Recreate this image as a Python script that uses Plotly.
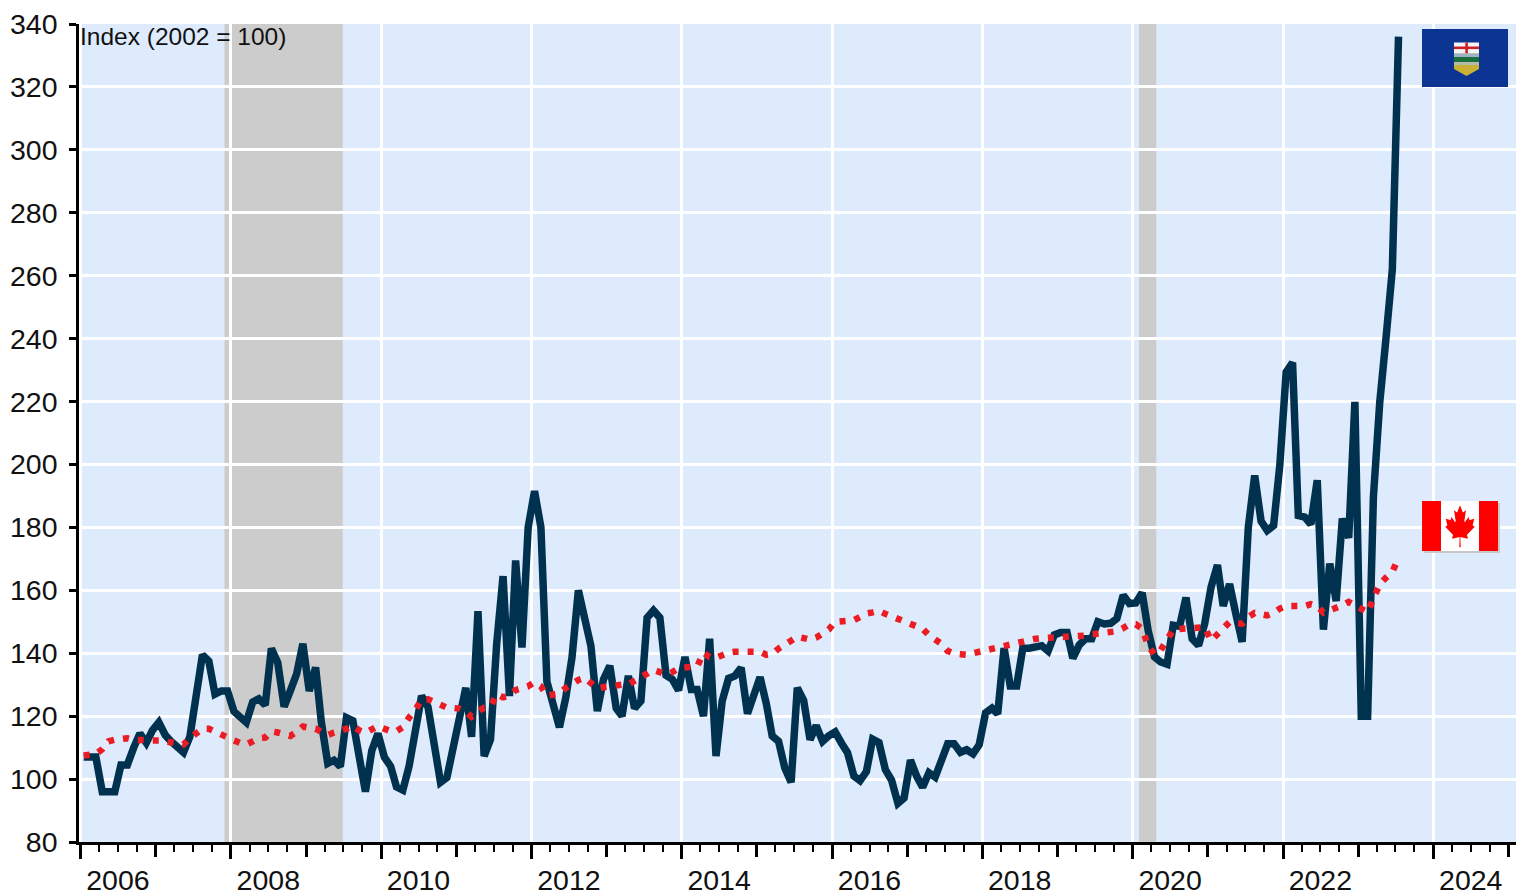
import base64
import pandas as pd
import plotly.graph_objects as go

alberta = [107,107,107,96,96,96,104.5,104.5,110,114.5,111.5,115.5,118,114,112,110.5,108.5,113.5,127.5,139.5,
137.5,127,128,128,121.5,119.5,118,124.5,125.5,123.5,141.5,137,123,128,133.5,143,128,135.5,118,105,
106,104,119.5,118.5,108,96,109,114.5,107,104,97.5,96.5,104,115,126.4,123,110,99,100.5,110,
119.5,129,113.4,153.4,107.3,112.6,143,164.5,126.4,169.5,141.8,180,191.5,180,131,124,116.5,126,138.6,160,
151,142.3,121.6,131.7,136,122.5,120,132.8,122.5,124.8,151.3,153.6,151.3,133,131.7,128.2,138.8,128.5,128.5,120,
144.6,107.3,124.8,132,132.8,135.4,120.8,125.9,132.4,123.8,113.7,112,103.6,99,129,125,112.5,117,112,113.8,
115,111.4,108.4,101,99.5,102.4,112.7,111.6,103,99.7,92.3,94,106,100.8,97.4,102,100.6,106,111.2,111.2,
108.5,109.3,108,110.9,121,122.5,120.7,141.6,129.6,129.6,141.6,141.6,141.8,142.4,140.7,145.8,146.6,146.6,138.4,142.6,
144.6,144.6,150,149.3,149.5,151,158.4,155.8,156,159.2,147.3,138.8,137.2,136.5,148.9,148.6,157.7,144.6,142.5,149.4,
161,168,155,162,152.6,143.6,180,196.5,182,179,180.6,199.7,229.4,232.4,183.8,183.3,181,195,147.5,168.5,
156.6,182.8,176.7,219.9,120,120,189.7,219.9,240,262,336]

canada = [107.5,107.5,108,109.5,112,112.5,113,113,112.5,112.3,112,112.3,112.3,112,111.5,111.5,111,113,114.5,116,
116,115,114,113.5,112.3,111.5,111,112,113,113.2,115.2,114.8,114,113.7,115,116.7,116.3,116,115,114,
114.8,115.2,116,117,115.5,114.7,115.5,116.8,116,115.2,115.2,116.5,119.5,122,125.3,125.4,124.5,123.5,122.7,122.6,
122.4,121.5,119.8,121.5,122.7,123,127,126,126.5,128.3,128.8,129.5,130.8,129.5,126.5,126.8,127.2,129,130.3,131.5,
132.2,130.5,128.8,129.2,129.6,129.8,130,130.1,131.5,132.4,133.5,134.7,134,133.3,134,135.2,135.5,135.6,135.7,140.2,
138.8,138.6,139.5,140.2,140.5,140.6,140.6,140.7,140.5,139.5,139.8,141.5,142.5,144,145.3,145,144.3,145,146,147.5,
150,150,150,150.5,151.5,152.6,153,153.5,152.5,151.8,151,150.3,149.5,148.8,147.8,145.7,144.3,143,140.7,139.9,
139.7,139.5,140,140.5,141,141.5,142,142.3,142.6,143.2,143.8,144.2,144.6,144.8,144.9,145,145,144.9,144.9,145.3,
145.6,146,146.2,146.5,146.8,147,148,149.2,149.2,147.8,142.5,139.5,141,144.5,147.5,147.7,147.8,148,148.2,148.3,
144,146.2,148.2,149.9,149.6,149.4,151.5,152.8,152.4,152,152.8,154.2,155,154.9,154.7,155,155.6,155,152.9,153.5,
154.2,155.2,156.3,155.3,153.8,153,157.4,162,164,165.8,170.4]

months = pd.date_range("2006-01-01", periods=len(alberta), freq="MS") + pd.Timedelta(days=15)
recession_start = ["2007-12-01", "2020-02-01"]
recession_end = ["2009-06-28", "2020-04-25"]
year_label_dates = [f"{y}-07-01" for y in range(2006, 2026, 2)]
year_labels = [str(y) for y in range(2006, 2026, 2)]

BLUE = "#00324f"
RED = "#ec1c24"
BG = "#deebfd"
FONT = "Liberation Sans"
X_RANGE = ["2005-12-24", "2025-02-06"]


def svg_uri(svg):
    return "data:image/svg+xml;base64," + base64.b64encode(svg.encode()).decode()


alberta_flag = """<svg xmlns="http://www.w3.org/2000/svg" viewBox="0 0 86 58" preserveAspectRatio="none">
<rect width="86" height="58" fill="#0c3593"/>
<path d="M32 14H57V40L44.5 47L32 40Z" fill="#c9b037"/>
<rect x="32" y="13.5" width="25" height="11" fill="#f4f4f4"/>
<rect x="32" y="17.5" width="25" height="2.6" fill="#cf2027"/>
<rect x="43.3" y="13.5" width="2.6" height="11" fill="#cf2027"/>
<rect x="32" y="24.5" width="25" height="3.5" fill="#9fb2c8"/>
<rect x="32" y="28" width="25" height="5" fill="#19703a"/>
<rect x="32" y="33" width="25" height="3" fill="#b5bbaa"/>
</svg>"""

canada_flag = """<svg xmlns="http://www.w3.org/2000/svg" viewBox="0 0 78 52" preserveAspectRatio="none">
<rect x="2" y="2" width="76" height="50" fill="#c8c8c8"/>
<svg x="0" y="0" width="76" height="50" viewBox="0 0 9600 4800" preserveAspectRatio="none">
<path fill="#f00" d="m0 0h2400l99 99h4602l99-99h2400v4800h-2400l-99-99h-4602l-99 99H0z"/>
<path fill="#fff" d="m2400 0h4800v4800h-4800zm2490 4430-45-863a95 95 0 0 1 111-98l859 151-116-320a65 65 0 0 1 20-73l941-762-212-99a65 65 0 0 1-34-79l186-572-542 115a65 65 0 0 1-73-38l-105-247-423 454a65 65 0 0 1-111-57l204-1052-327 189a65 65 0 0 1-91-27l-332-652-332 652a65 65 0 0 1-91 27l-327-189 204 1052a65 65 0 0 1-111 57l-423-454-105 247a65 65 0 0 1-73 38l-542-115 186 572a65 65 0 0 1-34 79l-212 99 941 762a65 65 0 0 1 20 73l-116 320 859-151a95 95 0 0 1 111 98l-45 863z"/>
</svg></svg>"""

L, R, T, B = 79, 1516, 24, 842
px_x = lambda p: (p - L) / (R - L)
px_y = lambda p: 1 - (p - T) / (B - T)

fig = go.Figure()
fig.add_trace(go.Scatter(x=months, y=alberta, mode="lines", showlegend=False,
                         line=dict(color=BLUE, width=7.5, shape="linear"), hoverinfo="skip"))
fig.add_trace(go.Scatter(x=months, y=canada, mode="lines", showlegend=False,
                         line=dict(color=RED, width=6.5, dash="6px,9px"), hoverinfo="skip"))
fig.add_trace(go.Scatter(x=[months[0]], y=[None], xaxis="x2", mode="lines", showlegend=False, hoverinfo="skip"))

for a, b in zip(recession_start, recession_end):
    fig.add_shape(type="rect", x0=a, x1=b, y0=0, y1=1, xref="x", yref="y domain",
                  fillcolor="#cccccc", line_width=0, layer="below")

fig.update_layout(
    width=1520, height=894, autosize=False,
    margin=dict(l=L, r=1520 - R, t=T, b=894 - B, pad=0, autoexpand=False),
    paper_bgcolor="white", plot_bgcolor=BG,
    font=dict(family=FONT, size=28.5, color="#111111"),
    xaxis=dict(type="date", range=X_RANGE, tick0="2006-01-01", dtick="M24", automargin=False,
               ticks="outside", ticklen=14, tickwidth=2.5, tickcolor="black",
               showticklabels=False, showgrid=True, gridcolor="white", gridwidth=2.5,
               showline=True, linecolor="black", linewidth=2.5, zeroline=False,
               minor=dict(tick0="2006-01-01", dtick="M3", ticks="outside", ticklen=7,
                          tickwidth=2, tickcolor="black", showgrid=False)),
    xaxis2=dict(type="date", range=X_RANGE, overlaying="x", anchor="y", side="bottom", automargin=False,
                tickmode="array", tickvals=year_label_dates, ticktext=year_labels,
                ticks="", ticklabelstandoff=18, showgrid=False, showline=False, zeroline=False,
                minor=dict(tick0="2006-01-01", dtick="M12", ticks="outside", ticklen=14,
                           tickwidth=2.5, tickcolor="black", showgrid=False)),
    yaxis=dict(range=[80, 340], dtick=20, tick0=80, ticks="outside", ticklen=7, automargin=False,
               tickwidth=2.5, tickcolor="black", showgrid=True, gridcolor="white", gridwidth=2.5,
               showline=True, linecolor="black", linewidth=2.5, zeroline=False,
               ticklabelstandoff=6),
    annotations=[dict(text="Index (2002 = 100)", x=px_x(78), y=px_y(37), xref="paper", yref="paper",
                      xanchor="left", yanchor="middle", showarrow=False,
                      font=dict(family=FONT, size=24.5, color="#111111"))],
    images=[
        dict(source=svg_uri(alberta_flag), xref="paper", yref="paper", x=px_x(1422), y=px_y(29),
             sizex=86 / (R - L), sizey=58 / (B - T), xanchor="left", yanchor="top",
             sizing="stretch", layer="above"),
        dict(source=svg_uri(canada_flag), xref="paper", yref="paper", x=px_x(1422), y=px_y(501),
             sizex=78 / (R - L), sizey=52 / (B - T), xanchor="left", yanchor="top",
             sizing="stretch", layer="above"),
    ],
)

fig.write_html("out.html", post_script="document.body.style.margin='0';document.documentElement.style.overflow='hidden';",
               config={"displayModeBar": False})
